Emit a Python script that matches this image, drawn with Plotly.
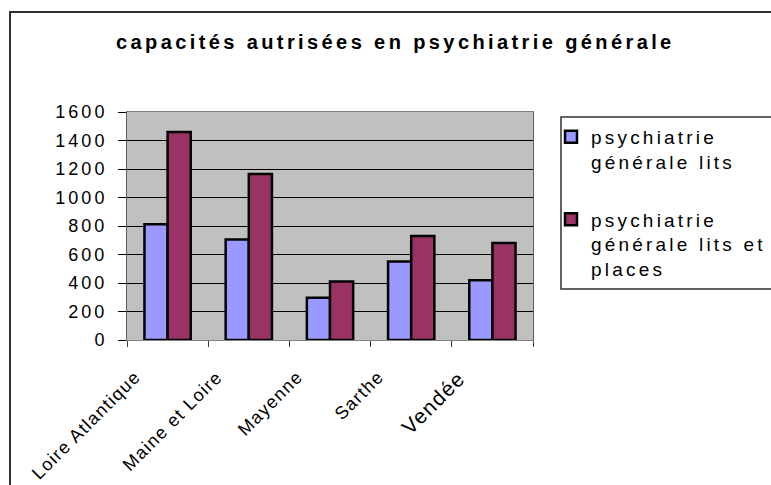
import plotly.graph_objects as go

categories = ["Loire Atlantique", "Maine et Loire", "Mayenne", "Sarthe", "Vendée"]
lits = [812, 705, 297, 550, 420]
lits_places = [1460, 1165, 410, 730, 680]
series_names = ["psychiatrie<br>générale lits", "psychiatrie<br>générale lits et<br>places"]
y_ticks = [0, 200, 400, 600, 800, 1000, 1200, 1400, 1600]
title_text = "capacités autrisées en psychiatrie générale"

FONT = "Arial, Liberation Sans, sans-serif"
W, H = 771, 485
L, R, T, B = 127, 533, 112, 340  # plot area pixel box
pw, ph = R - L, B - T


def px_x(x):
    return (x - L) / pw


def px_y(y):
    return (B - y) / ph


def ls(text, sp):
    return f"<span style='letter-spacing:{sp}px'>{text}</span>"


fig = go.Figure()
fig.add_trace(go.Bar(
    x=categories, y=lits, name=ls(series_names[0], 3.2), legendgroup="a",
    marker=dict(color="#9999FF", line=dict(color="black", width=2.5)),
))
fig.add_trace(go.Bar(
    x=categories, y=lits_places, name=ls(series_names[1], 3.2), legendgroup="b",
    marker=dict(color="#993366", line=dict(color="black", width=2.5)),
))

# category labels, rotated
for c in categories:
    size = 21 if c == "Vendée" else 18
    fig.add_annotation(
        x=c, y=0, xref="x", yref="paper", text=ls(c, 1.3),
        textangle=-45, xanchor="right", yanchor="top",
        xshift=-20, yshift=-24, showarrow=False,
        font=dict(family=FONT, size=size, color="black"),
    )

fig.add_annotation(
    x=px_x(395), y=px_y(42), xref="paper", yref="paper",
    text=f"<b>{ls(title_text, 3.4)}</b>", showarrow=False,
    xanchor="center", yanchor="middle",
    font=dict(family=FONT, size=20, color="black"),
)

# outer border and legend box
fig.add_shape(type="rect", xref="paper", yref="paper",
              x0=px_x(10), x1=px_x(790), y0=px_y(12), y1=px_y(500),
              line=dict(color="#303030", width=2), fillcolor="rgba(0,0,0,0)", layer="below")
fig.add_shape(type="rect", xref="paper", yref="paper",
              x0=px_x(561), x1=px_x(790), y0=px_y(117), y1=px_y(289),
              line=dict(color="#303030", width=1.5), fillcolor="rgba(0,0,0,0)")

fig.update_layout(
    width=W, height=H,
    margin=dict(l=L, r=W - R, t=T, b=H - B, pad=0, autoexpand=False),
    paper_bgcolor="white", plot_bgcolor="#C0C0C0",
    barmode="group", bargap=0.43, bargroupgap=0,
    font=dict(family=FONT, size=18, color="black"),
    showlegend=True,
    legend=dict(
        xref="container", yref="container",
        x=551 / W, y=1 - 118 / H, xanchor="left", yanchor="top",
        bgcolor="rgba(0,0,0,0)", borderwidth=0, valign="top",
        tracegroupgap=30, traceorder="grouped",
        font=dict(family=FONT, size=19, color="black"),
    ),
    xaxis=dict(
        range=[-0.5, len(categories) - 0.5], autorange=False,
        showticklabels=False, ticks="outside", tickson="boundaries", ticklen=6,
        tickcolor="#404040", showline=True, linecolor="#808080", linewidth=1,
        mirror=True, showgrid=False,
    ),
    yaxis=dict(
        range=[0, 1600], tickvals=y_ticks, ticktext=[ls(str(v), 3.0) for v in y_ticks],
        ticks="outside", ticklen=8, tickcolor="black", ticklabelstandoff=7,
        showline=True, linecolor="#606060", linewidth=1, mirror=True,
        showgrid=True, gridcolor="black", gridwidth=1, zeroline=False,
        tickfont=dict(family=FONT, size=18, color="black"),
    ),
)

fig.write_html(
    "out.html",
    config={"displayModeBar": False},
    post_script="document.body.style.margin='0';document.body.style.overflow='hidden';",
)
